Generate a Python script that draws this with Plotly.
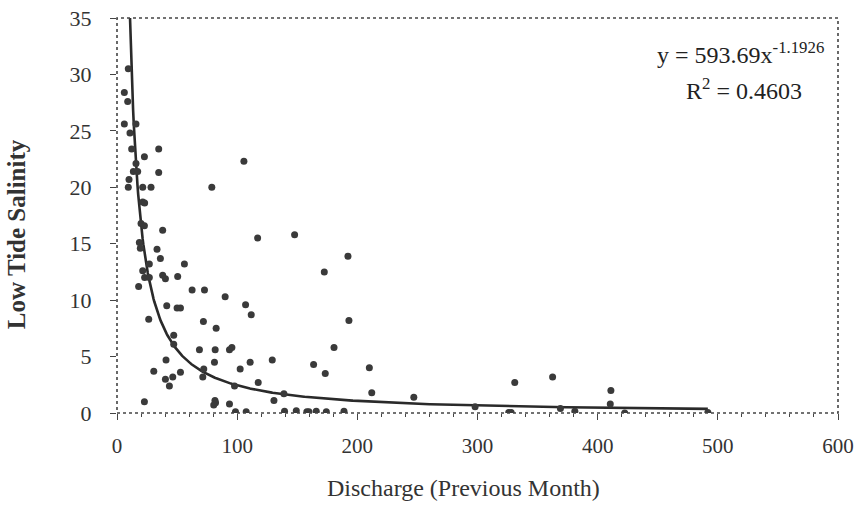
import numpy as np
import plotly.graph_objects as go

discharge = [9.4, 6.1, 8.9, 6.1, 15.8, 10.8, 12.2, 34.7, 22.8, 105.6, 15.8, 13.6, 17.2, 34.7, 10, 9.4, 21.4, 28.3, 78.9, 21.4, 23,
             20, 22.8, 38, 117, 18.6, 19.4, 33.3, 36.1, 56.1, 26.9, 21.4, 23, 26.9, 38, 40.3, 50.5, 18, 62.5, 72.8, 90, 107, 111.7,
             41.4, 50, 52.8, 26.4, 71.9, 82.5, 47.2, 47.2, 68.6, 81.7, 93.6, 95.6, 40.8, 81.1, 110.8, 102.5, 30.6, 72.2, 71.4, 52.8,
             40.3, 46.4, 43.6, 117.5, 97.8, 22.8, 81.5, 82, 80.5, 93.6, 98.6, 107.5,
             147.8, 192.2, 172.5, 193, 180.6, 129.2, 163.6, 173.3, 210, 130.6, 138.9, 212, 247,
             139.4, 149.2, 158, 159.7, 165.8, 174.2, 188.9,
             331, 362.5, 411, 410.5, 298, 369, 381, 326, 328, 422.5, 491.7]
salinity = [30.5, 28.4, 27.6, 25.6, 25.6, 24.8, 23.4, 23.4, 22.7, 22.3, 22.1, 21.4, 21.4, 21.3, 20.7, 20, 20, 20, 20, 18.7, 18.6,
            16.8, 16.6, 16.2, 15.5, 15.1, 14.6, 14.5, 13.7, 13.2, 13.2, 12.6, 12, 12, 12.2, 11.9, 12.1, 11.2, 10.9, 10.9, 10.3, 9.6, 8.7,
            9.5, 9.3, 9.3, 8.3, 8.1, 7.5, 6.9, 6.1, 5.6, 5.6, 5.6, 5.8, 4.7, 4.5, 4.5, 3.9, 3.7, 3.9, 3.2, 3.6,
            3.0, 3.2, 2.4, 2.7, 2.4, 1.0, 1.1, 0.9, 0.7, 0.8, 0.1, 0.1,
            15.8, 13.9, 12.5, 8.2, 5.8, 4.7, 4.3, 3.5, 4.0, 1.1, 1.7, 1.8, 1.4,
            0.15, 0.2, 0.1, 0.1, 0.15, 0.1, 0.15,
            2.7, 3.2, 2.0, 0.8, 0.55, 0.4, 0.15, 0.05, 0.05, 0.0, 0.05]

coef_a = 593.69
coef_b = -1.1926
x_ticks = [0, 100, 200, 300, 400, 500, 600]
y_ticks = [0, 5, 10, 15, 20, 25, 30, 35]

xt = np.linspace(min(discharge), max(discharge), 800)
yt = coef_a * xt ** coef_b

font = "Liberation Serif, Times New Roman, serif"

fig = go.Figure()
fig.add_trace(go.Scatter(x=xt, y=yt, mode="lines", line=dict(color="#2a2a2a", width=2.6),
                         hoverinfo="skip", showlegend=False))
fig.add_trace(go.Scatter(x=discharge, y=salinity, mode="markers",
                         marker=dict(color="#3a3a3a", size=7), showlegend=False))

fig.update_layout(
    width=858, height=505,
    margin=dict(l=117, r=20, t=18, b=92),
    paper_bgcolor="white", plot_bgcolor="white",
    font=dict(family=font, color="#333", size=21),
    xaxis=dict(range=[0, 600], tickvals=x_ticks, showgrid=False, zeroline=False, automargin=False,
               ticks="outside", ticklen=6, tickcolor="#444", tickwidth=1,
               minor=dict(dtick=20, ticks="outside", ticklen=3, tickcolor="#444"),
               ticklabelstandoff=8, tickfont=dict(size=21, family=font, color="#333")),
    yaxis=dict(range=[0, 35], tickvals=y_ticks, showgrid=False, zeroline=False, automargin=False,
               ticks="outside", ticklen=6, tickcolor="#444", tickwidth=1,
               ticklabelstandoff=14, tickfont=dict(size=22, family=font, color="#333")),
    shapes=[dict(type="rect", xref="paper", yref="paper", x0=0, y0=0, x1=1, y1=1,
                 line=dict(color="#444", width=1.6, dash="dot"))],
    annotations=[
        dict(text="Discharge (Previous Month)", xref="paper", yref="paper", x=0.481, y=-0.19,
             showarrow=False, font=dict(size=24, family=font, color="#333"), xanchor="center", yanchor="middle"),
        dict(text="<b>Low Tide Salinity</b>", xref="paper", yref="paper", x=-0.14, y=0.453,
             textangle=-90, showarrow=False, font=dict(size=25, family=font, color="#333"),
             xanchor="center", yanchor="middle"),
        dict(text="y = 593.69x<sup>-1.1926</sup>", xref="paper", yref="paper", x=0.865, y=0.912,
             showarrow=False, font=dict(size=24, family=font, color="#222"), xanchor="center", yanchor="middle"),
        dict(text="R<sup>2</sup> = 0.4603", xref="paper", yref="paper", x=0.87, y=0.82,
             showarrow=False, font=dict(size=24, family=font, color="#222"), xanchor="center", yanchor="middle"),
    ],
)

fig.write_html("out.html")
